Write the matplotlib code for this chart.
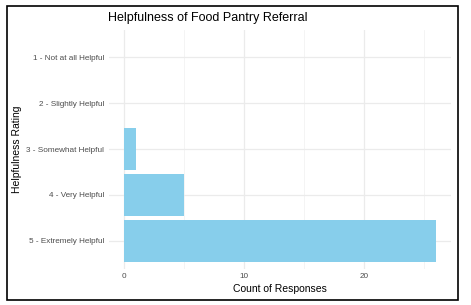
import matplotlib.pyplot as plt
from matplotlib.patches import Rectangle

plt.rcParams['font.family'] = ['Liberation Sans', 'DejaVu Sans']

# survey categories and counts
ratings = ['1 - Not at all Helpful', '2 - Slightly Helpful', '3 - Somewhat Helpful',
           '4 - Very Helpful', '5 - Extremely Helpful']
counts = [0, 0, 1, 5, 26]
x_ticks = [0, 10, 20]

W, H = 471, 305
fig = plt.figure(figsize=(W / 100, H / 100), dpi=100)
# panel in pixel coordinates
left, right, top, bottom = 108.5, 451.5, 29.5, 268.5
ax = fig.add_axes([left / W, 1 - bottom / H, (right - left) / W, (bottom - top) / H])

pos = list(range(1, len(ratings) + 1))
ax.barh(pos, counts, height=0.9, color='#87CEEB', zorder=3)
ax.set_xlim(-1.3, 27.3)
ax.set_ylim(5.6, 0.4)
ax.set_yticks(pos)
ax.set_yticklabels(ratings)
ax.set_xticks(x_ticks)
ax.set_xticks([5, 15, 25], minor=True)
ax.grid(True, which='major', color='#ebebeb', linewidth=0.9, zorder=0)
ax.grid(True, which='minor', axis='x', color='#f3f3f3', linewidth=0.6, zorder=0)
for s in ax.spines.values():
    s.set_visible(False)
ax.tick_params(which='both', length=0, labelsize=5.9, labelcolor='#4d4d4d')
ax.tick_params(axis='y', pad=3)
ax.tick_params(axis='x', pad=3)

ax.set_xlabel('Count of Responses', fontsize=7.5)
ax.xaxis.set_label_coords((280 - left) / (right - left), (bottom - 289) / (bottom - top),
                          transform=ax.transAxes)
ax.xaxis.label.set_va('center')
ax.set_ylabel('Helpfulness Rating', fontsize=7.5)
ax.yaxis.set_label_coords((17 - left) / (right - left), 0.5, transform=ax.transAxes)
ax.yaxis.label.set_va('center')
ax.set_title('Helpfulness of Food Pantry Referral', loc='left', fontsize=9, pad=6)

# black frame around the whole picture
fig.patches.append(Rectangle((7 / W, 1 - 299.5 / H), 451 / W, 293.5 / H,
                             transform=fig.transFigure, fill=False,
                             edgecolor='black', linewidth=1.2))

fig.savefig('out.png', dpi=100)
